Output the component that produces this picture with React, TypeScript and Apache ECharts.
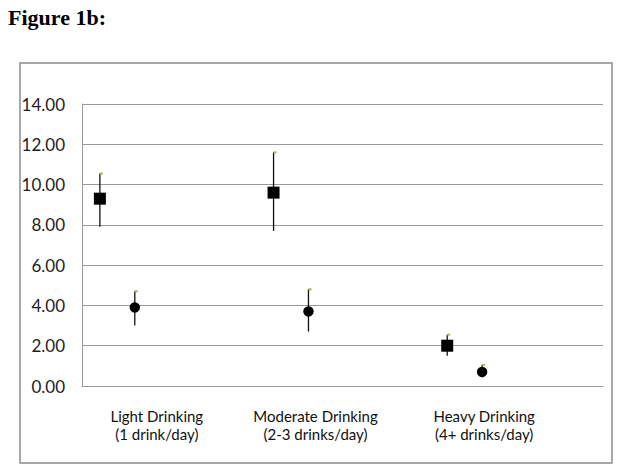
import React, { useEffect, useRef } from "react";
import * as echarts from "echarts";

const categories = ["Light Drinking\n(1 drink/day)", "Moderate Drinking\n(2-3 drinks/day)", "Heavy Drinking\n(4+ drinks/day)"];
const squareValues = [9.3, 9.6, 2.0];
const squareLow = [7.9, 7.7, 1.5];
const squareHigh = [10.55, 11.6, 2.55];
const circleValues = [3.9, 3.7, 0.7];
const circleLow = [3.0, 2.7, 0.42];
const circleHigh = [4.7, 4.8, 1.05];
const yTicks = [0, 2, 4, 6, 8, 10, 12, 14];

const labelShift = [24, 54, 64];

function makeRender(offsetFrac: number, shape: "square" | "circle") {
  return (params: any, api: any) => {
    const idx = api.value(0);
    const band = api.size([1, 0])[0];
    const c = api.coord([idx, api.value(1)]);
    const lo = api.coord([idx, api.value(2)]);
    const hi = api.coord([idx, api.value(3)]);
    const x = c[0] + band * offsetFrac;
    const children: any[] = [
      { type: "line", shape: { x1: x, y1: lo[1], x2: x, y2: hi[1] }, style: { stroke: "#111", lineWidth: 1.3 } },
      { type: "line", shape: { x1: x, y1: hi[1], x2: x + 3, y2: hi[1] }, style: { stroke: "#9bbb59", lineWidth: 2 } },
    ];
    if (shape === "square") {
      children.push({ type: "rect", shape: { x: x - 6, y: c[1] - 6, width: 12, height: 12 }, style: { fill: "#000" } });
    } else {
      children.push({ type: "circle", shape: { cx: x, cy: c[1], r: 5.2 }, style: { fill: "#000" } });
    }
    return { type: "group", children };
  };
}

export default function App() {
  const ref = useRef<HTMLDivElement>(null);
  useEffect(() => {
    document.body.style.margin = "0";
    const chart = echarts.init(ref.current!, null, { renderer: "svg" });
    chart.setOption({
      animation: false,
      backgroundColor: "#fff",
      grid: { left: 82, right: 18, top: 104, bottom: 86 },
      xAxis: {
        type: "category",
        data: categories.map((c, i) => ({ value: c, textStyle: { padding: [0, labelShift[i], 0, 0] } })),
        axisTick: { show: false },
        axisLine: { lineStyle: { color: "#9a9a9a", width: 1 } },
        axisLabel: { margin: 21, fontFamily: "Lato", fontSize: 15, lineHeight: 18, color: "#111" },
      },
      yAxis: {
        type: "value",
        min: 0,
        max: 14,
        interval: 2,
        axisLine: { show: true, lineStyle: { color: "#9a9a9a", width: 1 } },
        axisTick: { show: false },
        splitLine: { lineStyle: { color: "#9a9a9a", width: 1 } },
        axisLabel: {
          margin: 17,
          fontFamily: "Lato",
          fontSize: 17,
          color: "#222",
          formatter: (v: number) => (yTicks.includes(v) ? v.toFixed(2) : ""),
        },
      },
      graphic: [
        { type: "text", left: 8, top: 6, style: { text: "Figure 1b:", fontFamily: "Liberation Serif", fontWeight: "bold", fontSize: 22, fill: "#000" } },
        { type: "rect", shape: { x: 20, y: 63, width: 592, height: 400 }, style: { fill: "none", stroke: "#8c8c8c", lineWidth: 1.5 }, z: -1 },
      ],
      series: [
        {
          type: "custom",
          renderItem: makeRender(-0.397, "square"),
          data: squareValues.map((v, i) => [i, v, squareLow[i], squareHigh[i]]),
          z: 5,
        },
        {
          type: "custom",
          renderItem: makeRender(-0.196, "circle"),
          data: circleValues.map((v, i) => [i, v, circleLow[i], circleHigh[i]]),
          z: 5,
        },
      ],
    });
    return () => chart.dispose();
  }, []);
  return <div ref={ref} style={{ width: 621, height: 472 }} />;
}
